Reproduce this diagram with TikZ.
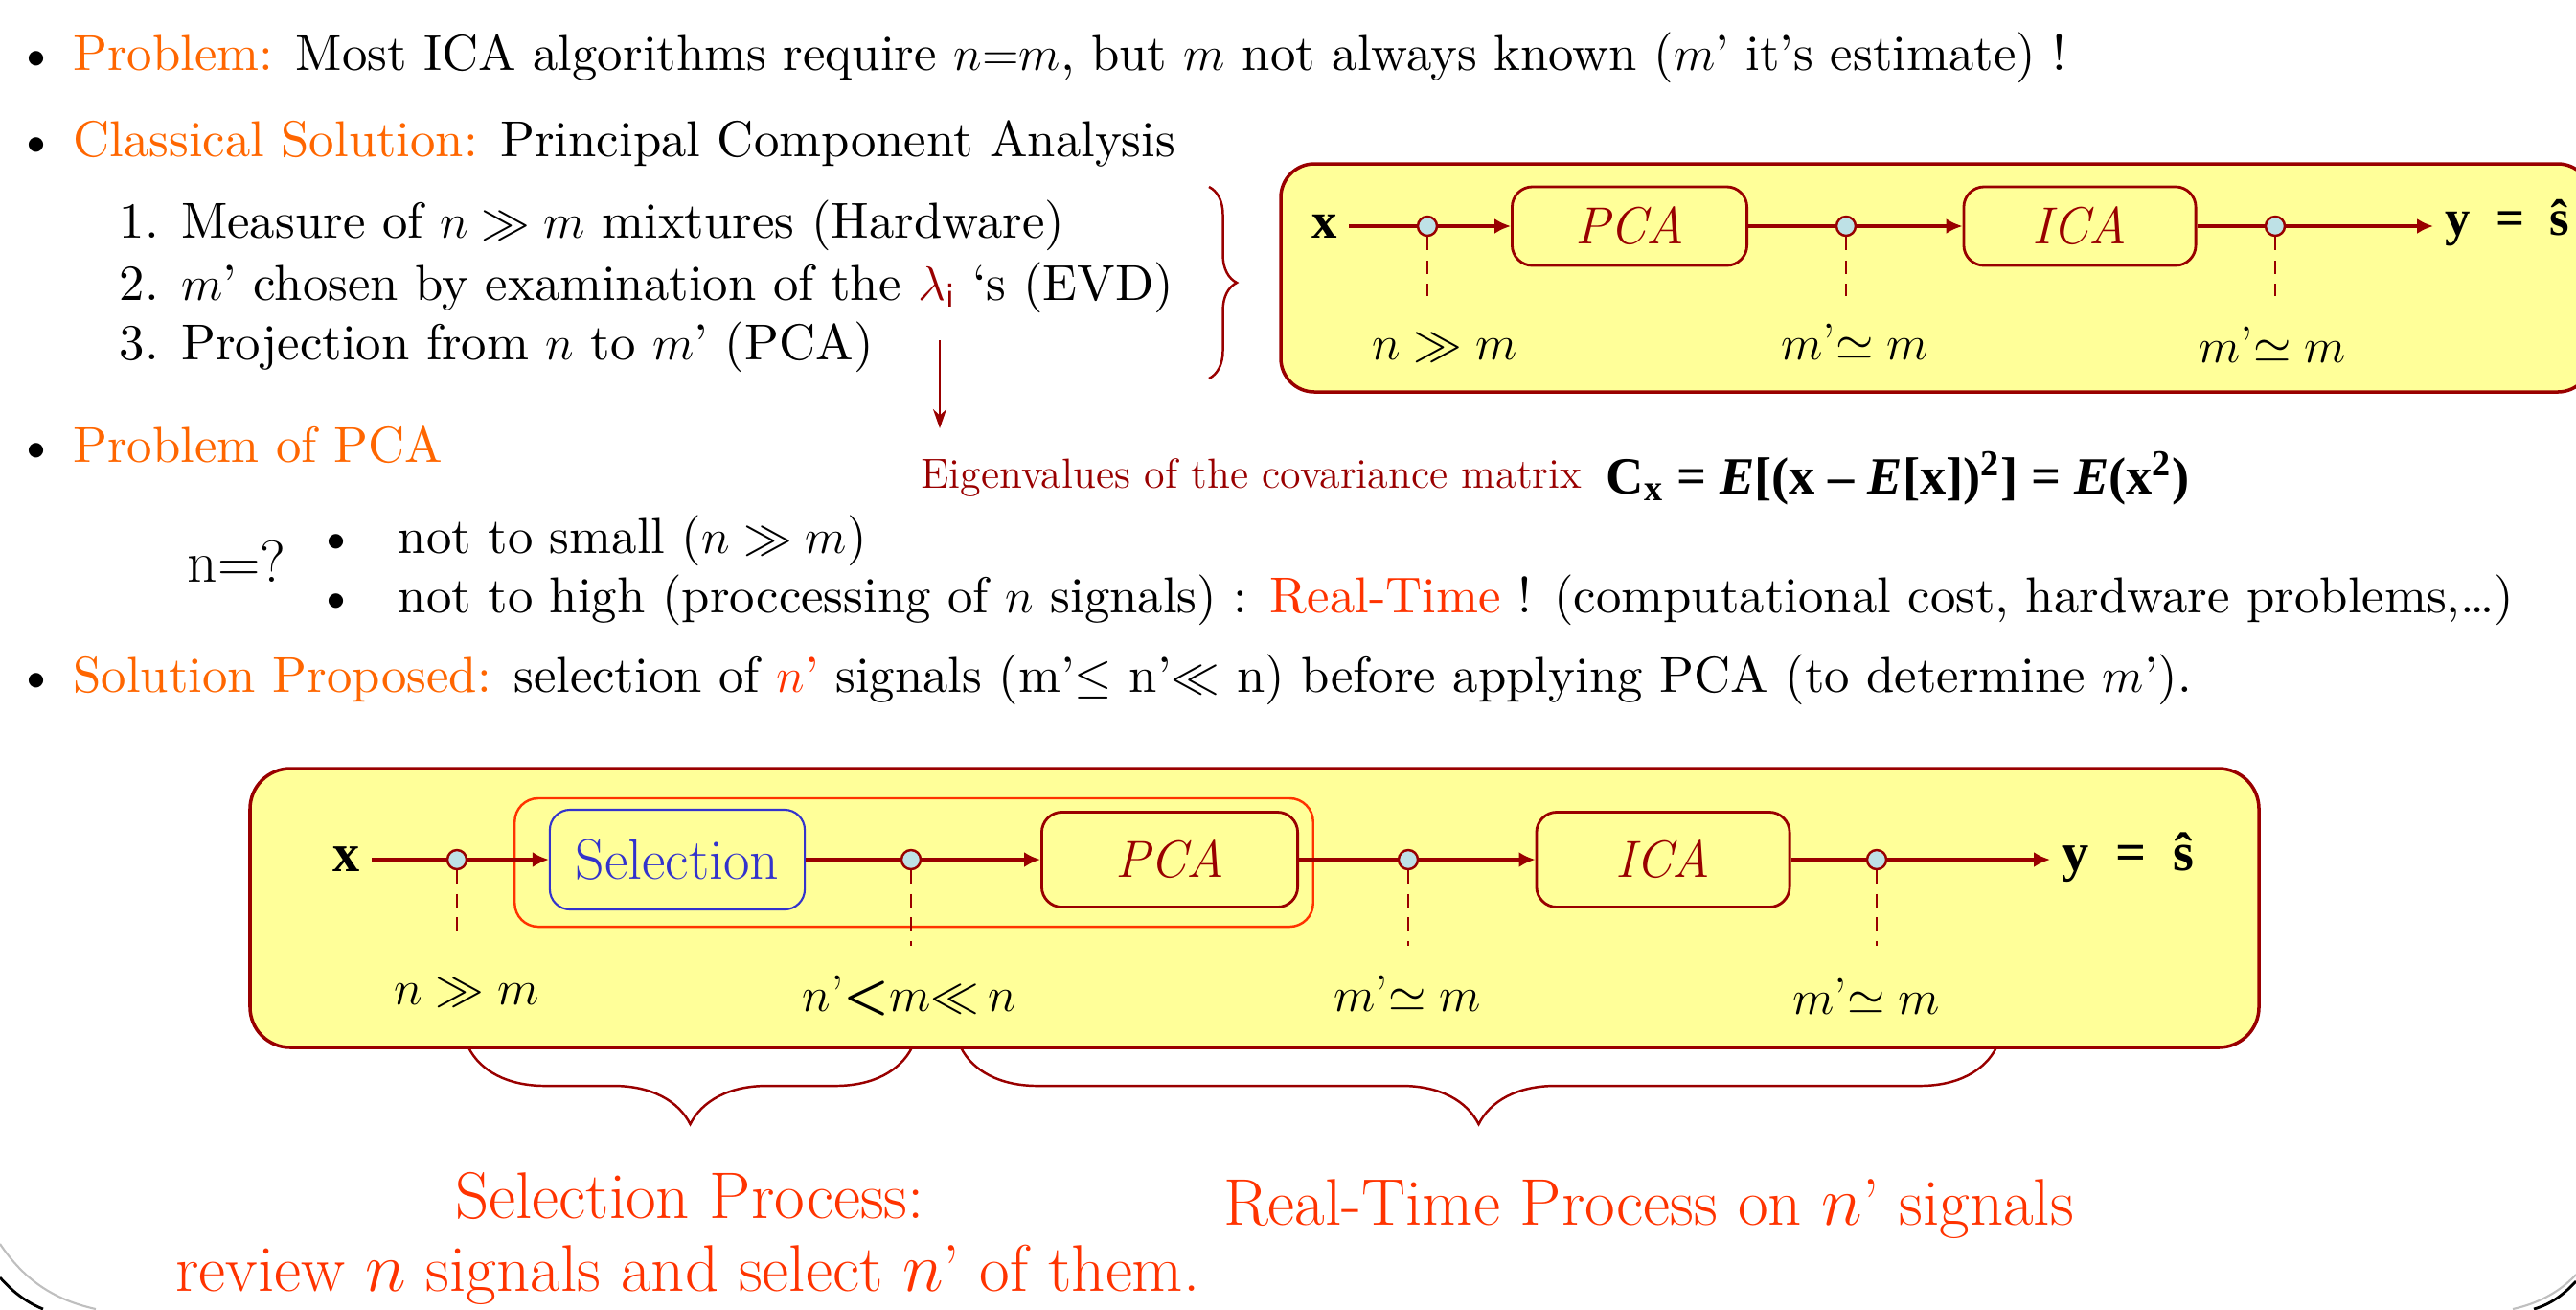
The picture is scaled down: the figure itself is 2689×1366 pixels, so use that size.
\documentclass[tikz,border=0pt]{standalone}
\usepackage{amsmath,amssymb}
\usepackage{fontspec}
\usepackage{xcolor}
\usetikzlibrary{positioning,arrows.meta,decorations.pathreplacing}
\newfontfamily\tnr{Liberation Serif}
\newfontfamily\lmten{lmroman10-regular.otf}[BoldFont=lmroman10-bold.otf,ItalicFont=lmroman10-italic.otf]
\definecolor{hdorange}{RGB}{255,102,0}
\definecolor{hired}{RGB}{255,51,0}
\definecolor{dred}{RGB}{153,0,0}
\definecolor{pyellow}{RGB}{255,255,153}
\definecolor{dotblue}{RGB}{190,225,230}
\definecolor{selblue}{RGB}{51,51,204}
\newcommand{\hd}[1]{\textcolor{hdorange}{#1}}
\newcommand{\bv}[1]{{\tnr\bfseries #1}}

\begin{document}
\begin{tikzpicture}[x=0.01cm,y=-0.01cm,
 t/.style={anchor=base west,inner sep=0pt,font=\lmten\fontsize{15}{18}\selectfont},
 blk/.style={draw=dred,line width=0.8pt,rounded corners=6pt,fill=pyellow,text=dred,font=\fontsize{15.5}{18}\selectfont\itshape},
 sel/.style={blk,draw=selblue,line width=0.6pt,text=selblue,font=\fontsize{17}{20}\selectfont},
 grp/.style={draw=hired,line width=0.7pt,rounded corners=7pt,minimum width=8.33cm,minimum height=1.34cm},
 pt/.style={circle,draw=dred,fill=dotblue,line width=0.7pt,inner sep=0pt,minimum size=0.2cm},
 lb/.style={anchor=base,font=\fontsize{15.3}{18}\selectfont},
 ar/.style={-{Latex[length=0.17cm,width=0.16cm]},dred,line width=0.9pt},
 ln/.style={dred,line width=0.9pt},
 dsh/.style={dred,line width=0.5pt,dash pattern=on 4pt off 3pt},
 pnl/.style={draw=dred,line width=1pt,fill=pyellow},
 br/.style={decorate,decoration={brace,amplitude=#1},dred,line width=0.7pt},
 big/.style={anchor=base,inner sep=0pt,text=hired,font=\fontsize{19.6}{23}\selectfont}]
 \useasboundingbox (0,0) rectangle (2689,1366);
 % slide frame corners
 \draw[gray!50,line width=0.6pt] (0,1298) .. controls (25,1335) and (55,1356) .. (100,1366);
 \draw[black,line width=0.8pt] (0,1333) .. controls (15,1350) and (30,1360) .. (45,1366);
 \draw[gray!50,line width=0.6pt] (2689,1330) .. controls (2672,1348) and (2650,1360) .. (2623,1366);
 \draw[black,line width=0.8pt] (2689,1337) .. controls (2675,1352) and (2662,1361) .. (2645,1366);

 % text
 \node[t](pb) at (17,73) {\textbullet\ \hd{Problem:} Most ICA algorithms require $n{=}m$, but $m$ not always known ($m$’ it’s estimate) !};
 \node[t](cs) at (17,163) {\textbullet\ \hd{Classical Solution:} Principal Component Analysis};
 \node[t](it1) at (124,248) {1. Measure of $n \gg m$ mixtures (Hardware)};
 \node[t](it2) at (124,313) {2. $m$’ chosen by examination of the \textcolor{dred}{$\lambda_{\mathsf{i}}$} ‘s (EVD)};
 \node[t](it3) at (124,375) {3. Projection from $n$ to $m$’ (PCA)};
 \node[t](pp) at (17,482) {\textbullet\ \hd{Problem of PCA}};
 \node[t,font=\fontsize{17.5}{20}\selectfont](nq) at (195,607) {n=?};
 \node[t,anchor=base](bu1) at (351,577) {\textbullet};
 \node[t,anchor=base](bu2) at (351,639) {\textbullet};
 \node[t](nb1) at (415,577) {not to small ($n \gg m$)};
 \node[t](nb2) at (415,639) {not to high (proccessing of $n$ signals) : \textcolor{hired}{Real-Time} ! (computational cost, hardware problems,\dots)};
 \node[t](sp) at (17,722) {\textbullet\ \hd{Solution Proposed:} selection of \textcolor{hired}{$n$’} signals (m’$\leq$ n’$\ll$ n) before applying PCA (to determine $m$’).};
 \node[t,text=dred,font=\fontsize{12.5}{15}\selectfont](eig) at (961,509) {Eigenvalues of the covariance matrix};
 \node[t,font=\fontsize{15.5}{18}\selectfont\tnr\bfseries](cx) at (1676,515) {C\textsubscript{x} = \textit{E}[(x – \textit{E}[x])\textsuperscript{2}] = \textit{E}(x\textsuperscript{2})};
 \coordinate (lam1) at (981,355);
 \coordinate (lam2) at (981,447);
 \draw[dred,line width=0.6pt,-{Stealth[length=0.2cm,width=0.14cm]}] (lam1) -- (lam2);
 \coordinate (br1) at (1262,195);
 \coordinate (br2) at (1262,395);
 \draw[br=0.29cm] (br1) -- (br2);

 % upper panel
 \draw[pnl,rounded corners=0.35cm] (1337,171) rectangle (2705,409);
 \node[anchor=east,font=\fontsize{15}{18}\selectfont](x1) at (1408,236) {\bv{x}};
 \node[pt](p1) at (1490,236) {};
 \node[blk,minimum width=2.45cm,minimum height=0.82cm](pca1) at (1701,236) {PCA};
 \node[pt](p2) at (1927,236) {};
 \node[blk,minimum width=2.42cm,minimum height=0.82cm](ica1) at (2171,236) {ICA};
 \node[pt](p3) at (2375,236) {};
 \node[anchor=base west,font=\fontsize{15}{18}\selectfont](y1) at (2540,245) {\bv{y \ = \ ŝ}};
 \draw[ln](x1)--(p1);
 \draw[ar](p1)--(pca1);
 \draw[ln](pca1)--(p2);
 \draw[ar](p2)--(ica1);
 \draw[ln](ica1)--(p3);
 \draw[ar](p3)--(p3 -| y1.west);
 \coordinate (e1) at (1490,309);
 \coordinate (e2) at (1927,309);
 \coordinate (e3) at (2375,309);
 \draw[dsh](p1)--(e1);
 \draw[dsh](p2)--(e2);
 \draw[dsh](p3)--(e3);
 \node[lb](l1) at (1508,375) {$n \gg m$};
 \node[lb](l2) at (1936,375) {$m$’$\simeq m$};
 \node[lb](l3) at (2372,378) {$m$’$\simeq m$};

 % lower panel
 \draw[pnl,rounded corners=0.42cm] (261,802) rectangle (2358,1093);
 \node[grp](grp) at (954,900) {};
 \node[anchor=east,font=\fontsize{16}{19}\selectfont](x2) at (388,897) {\bv{x}};
 \node[pt](q1) at (477,897) {};
 \node[sel,minimum width=2.66cm,minimum height=1.04cm](sel) at (707,897) {Selection};
 \node[pt](q2) at (951,897) {};
 \node[blk,minimum width=2.67cm,minimum height=0.99cm](pca2) at (1221,897) {PCA};
 \node[pt](q3) at (1470,897) {};
 \node[blk,minimum width=2.64cm,minimum height=0.99cm](ica2) at (1736,897) {ICA};
 \node[pt](q4) at (1959,897) {};
 \node[anchor=base west,font=\fontsize{16}{19}\selectfont](y2) at (2140,908) {\bv{y \ = \ ŝ}};
 \draw[ln](x2)--(q1);
 \draw[ar](q1)--(sel);
 \draw[ln](sel)--(q2);
 \draw[ar](q2)--(pca2);
 \draw[ln](pca2)--(q3);
 \draw[ar](q3)--(ica2);
 \draw[ln](ica2)--(q4);
 \draw[ar](q4)--(q4 -| y2.west);
 \coordinate (f1) at (477,982);
 \coordinate (f2) at (951,987);
 \coordinate (f3) at (1470,987);
 \coordinate (f4) at (1959,987);
 \draw[dsh](q1)--(f1);
 \draw[dsh](q2)--(f2);
 \draw[dsh](q3)--(f3);
 \draw[dsh](q4)--(f4);
 \node[lb](k1) at (487,1048) {$n \gg m$};
 \node[lb](k2) at (949,1055) {$n$’{\sffamily\bfseries <}$m{\ll}\,n$};
 \node[lb](k3) at (1469,1055) {$m$’$\simeq m$};
 \node[lb](k4) at (1948,1058) {$m$’$\simeq m$};

 % braces and captions
 \coordinate (b1) at (489,1093);
 \coordinate (b2) at (952,1093);
 \coordinate (b3) at (1003,1093);
 \coordinate (b4) at (2084,1093);
 \draw[br=0.8cm,decoration={mirror}](b1)--(b2);
 \draw[br=0.8cm,decoration={mirror}](b3)--(b4);
 \node[big](sp1) at (720,1271) {Selection Process:};
 \node[big](sp2) at (718,1347) {review $n$ signals and select $n$’ of them.};
 \node[big](rt) at (1721,1278) {Real-Time Process on $n$’ signals};
\end{tikzpicture}
\end{document}
